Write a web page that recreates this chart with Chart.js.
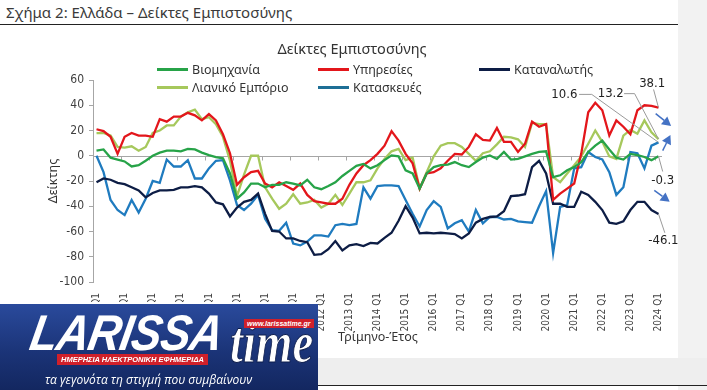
<!DOCTYPE html>
<html>
<head>
<meta charset="utf-8">
<script src="https://cdn.jsdelivr.net/npm/chart.js@4.4.1/dist/chart.umd.min.js"></script>
<style>
  html, body { margin: 0; padding: 0; }
  body { width: 707px; height: 390px; position: relative; overflow: hidden; background: #fff; font-family: "Noto Sans", "Open Sans", sans-serif; }
  #rightStrip { position: absolute; left: 678px; top: 0; width: 29px; height: 390px; background: #f2f2f2; }
  #bottomBand { position: absolute; left: 0; top: 358px; width: 707px; height: 27px; background: #eeeeee; }
  #bottomRule { position: absolute; left: 0; top: 385px; width: 707px; height: 1px; background: #222; }
  #header { position: absolute; left: 6px; top: 2px; font-size: 15px; color: #3a3a3a; white-space: nowrap; }
  #headerRule { position: absolute; left: 0; top: 24px; width: 678px; height: 1px; background: #222; }
  #chartWrap { position: absolute; left: 0; top: 0; width: 707px; height: 390px; }
  #chartTitle { position: absolute; left: 0; width: 704px; top: 38px; text-align: center; font-size: 14.5px; color: #333; }
  .leg { position: absolute; font-size: 12.5px; color: #333; white-space: nowrap; line-height: 16px; }
  .leg i { display: inline-block; width: 31px; height: 2.5px; vertical-align: middle; margin-right: 4px; position: relative; top: -1px; }
  #xTitle { position: absolute; left: 338px; top: 328px; font-size: 12.5px; color: #333; }
  #logo { position: absolute; left: 0; top: 302px; width: 318px; height: 88px; background: linear-gradient(180deg, #2a4a9c 0%, #1b3478 55%, #132760 100%); overflow: hidden; border-top: 2px solid #fff; box-sizing: border-box; }
  #logo .big { position: absolute; left: 36px; top: 0px; font: italic 900 50px "Liberation Sans", Arial, sans-serif; color: #fff; letter-spacing: -1px; transform-origin: 0 0; transform: skewX(-10deg) scaleX(0.9); white-space: nowrap; }
  #logo .time { position: absolute; left: 230px; top: 4px; font: italic 700 60px "Liberation Serif", serif; color: #fff; -webkit-text-stroke: 1px #0d1d4d; transform-origin: 0 0; transform: scaleX(0.78); white-space: nowrap; }
  #logo .www { position: absolute; left: 244px; top: 15px; background: #d0202a; color: #fff; font: italic 700 7px "Liberation Sans", sans-serif; padding: 1px 3px; }
  #logo .red { position: absolute; left: 57px; top: 50px; background: #d0202a; color: #fff; font: italic 700 7.5px "Liberation Sans", sans-serif; padding: 1px 4px; }
  #logo .tag { position: absolute; left: 45px; top: 67px; color: #fff; font: italic 400 12px "Open Sans", sans-serif; }
</style>
</head>
<body>
<div id="rightStrip"></div>
<div id="bottomBand"></div>
<div id="bottomRule"></div>
<div id="header">Σχήμα 2: Ελλάδα – Δείκτες Εμπιστοσύνης</div>
<div id="headerRule"></div>
<div id="chartWrap"><canvas id="confidenceChart"></canvas></div>
<div id="chartTitle">Δείκτες Εμπιστοσύνης</div>
<div class="leg" style="left:157px;top:62px"><i style="background:#27a348"></i>Βιομηχανία</div>
<div class="leg" style="left:318px;top:62px"><i style="background:#e3161b"></i>Υπηρεσίες</div>
<div class="leg" style="left:479px;top:62px"><i style="background:#0d1d45"></i>Καταναλωτής</div>
<div class="leg" style="left:157px;top:80px"><i style="background:#a6c85c"></i>Λιανικό Εμπόριο</div>
<div class="leg" style="left:318px;top:80px"><i style="background:#1e6f96"></i>Κατασκευές</div>
<div id="xTitle">Τρίμηνο-Έτος</div>
<div id="logo">
  <div class="big">LARISSA</div>
  <div class="time">time</div>
  <div class="www">www.larissatime.gr</div>
  <div class="red">ΗΜΕΡΗΣΙΑ ΗΛΕΚΤΡΟΝΙΚΗ ΕΦΗΜΕΡΙΔΑ</div>
  <div class="tag">τα γεγονότα τη στιγμή που συμβαίνουν</div>
</div>
<script>
const YEARS = [2004, 2005, 2006, 2007, 2008, 2009, 2010, 2011, 2012, 2013, 2014,
  2015, 2016, 2017, 2018, 2019, 2020, 2021, 2022, 2023, 2024];
const QUARTERS = ["Q1", "Q2", "Q3", "Q4"];

// 2004 Q1 ... 2024 Q1
const industry = [
  4, 5, -1.5, -3, -4.5, -8.5, -7.5, -4, 0, 2.5, 4, 4, 3.5, 5.5, 5, 2.5,
  0.5, -1, -2, -14, -34, -29, -22, -22, -25, -23, -23, -21, -22, -23.5, -19, -25,
  -26.5, -24, -21, -16, -12, -8, -6.5, -10, -7.5, -3.5, 0.3, -0.5, -11.5, -14, -26, -14,
  -9, -7.5, -7, -5, -7.5, -9, -5, -1.5, 0.3, -2.5, 3, -3, -2.5, -0.5, 1.5, 3,
  3.5, -17, -15.5, -11.5, -9, -5, 3, 8, 12, 5, -1.5, -3, 1.5, 0.5, -1, -3.5,
  -0.3
];
const services = [
  21, 19.5, 15, 1.5, 15, 18, 16, 16, 15, 29, 27, 31, 31, 34, 32, 28,
  33, 28, 17, 2, -23, -17, -13, -12, -22, -25, -21, -24, -27, -22, -31, -36,
  -37, -38, -38, -34, -23, -14, -7.5, -3.5, 1.5, 8, 19.5, 12, 1.5, -6, -26, -14,
  -13, -10, -4, 1.5, 1, 7, 17, 12.5, 12, 22, 11, 11, 3, 9.5, 27, 23,
  25, -35, -30, -26, -22, 1.5, 34.5, 42, 36, 16, 28, 23, 17, 36, 40, 39.5,
  38.1
];
const consumers = [
  -21, -18, -19, -21.5, -22.5, -25, -27.5, -33, -29.5, -27.5, -27.5, -27, -25, -25, -24, -25,
  -30, -37, -38.5, -48, -41, -36.5, -35, -30, -46, -59.5, -60, -65.5, -65.5, -67.5, -68.5, -78.5,
  -78, -74, -67.5, -75, -71, -70, -71.5, -69, -69.5, -65, -61, -51.5, -40, -49, -61.5, -61,
  -61.5, -61, -61.5, -62, -65.5, -61.5, -53, -50, -48.5, -48, -44, -32, -31.5, -30.5, -9, -4,
  -14, -38, -38, -40.5, -40.5, -28.5, -31, -36.5, -43, -53, -54, -52, -43, -36.5, -36.5, -43,
  -46.1
];
const retail = [
  18, 18, 16, 7, 6.5, 7.5, 4, 7, 18, 20, 24, 24, 31, 34.5, 36.5, 29,
  30.5, 25, 15, -4, -32, -15, 0, 0, -25, -34, -42, -38, -30.5, -38, -37, -35,
  -41, -38, -31, -39, -30, -21, -21, -19.5, -10, -2.5, 3.5, 5.5, -3.5, -1.5, -26, -13,
  -0.5, 8, 10, 10, 7, 1.5, -4, 2, 3.5, 9, 15, 14.5, 13, 7, 26, 25,
  25, -17, -21, -14, -7.5, -0.5, 9.5, 20, 11, -0.5, -2.5, 16, 20.5, 17.5, 28, 18.5,
  13.2
];
const construction = [
  0, -13, -35, -43, -47, -35, -45, -34, -20, -21.5, -3, -8.5, -8.5, -3.5, -18, -18,
  -10, -4, -3.5, -19.5, -39, -43, -38, -31, -50, -59, -59.5, -53, -69.5, -71, -68, -63,
  -63, -64, -55, -54, -55, -54, -25, -34, -24, -23.5, -23.5, -24, -35, -46, -56, -43,
  -36, -40.5, -57.5, -53.5, -51, -60, -43, -53.5, -48.5, -48.5, -50.5, -50, -52, -52.5, -53, -40,
  -28, -77, -40.5, -39, -10, -9, 3, -1, -3, -13, -31, -25, 3, 2, -10, 8,
  10.6
];

const Y_TICKS = { min: -100, max: 60, step: 20 };

const categories = [];
YEARS.forEach(y => QUARTERS.forEach(q => categories.push(y + " " + q)));
categories.length = industry.length;

const SERIES = [
  { label: "Βιομηχανία", data: industry, color: "#27a348" },
  { label: "Υπηρεσίες", data: services, color: "#e3161b" },
  { label: "Καταναλωτής", data: consumers, color: "#0d1d45" },
  { label: "Λιανικό Εμπόριο", data: retail, color: "#a6c85c" },
  { label: "Κατασκευές", data: construction, color: "#1f7bbf" }
];

// callout labels: text, label position (category index, value), which series end it points to, bend points
const CALLOUTS = [
  { text: "38.1", at: [79.1, 57.2], series: 1, path: [[79.3, 52.5]] },
  { text: "13.2", at: [73.2, 49.2], series: 3, path: [[75.1, 49.2], [76.6, 49.2]] },
  { text: "10.6", at: [66.6, 48.6], series: 4, path: [[68.7, 48.6], [70.5, 48.6]] },
  { text: "-0.3", at: [80.6, -19.8], series: 0, path: [[80.6, -12.5]] },
  { text: "-46.1", at: [80.7, -67], series: 2, path: [[80.9, -61]] }
];
const ARROWS = [
  { from: [79.6, 33.4], to: [81.8, 23.5] },
  { from: [80.6, 4], to: [81.7, 16.5] },
  { from: [79.4, -27.4], to: [81.6, -36.5] }
];

const AXIS_GRAY = "#a6a6a6";
const TEXT_COLOR = "#404040";
const NARROW = "'Liberation Sans Narrow', 'DejaVu Sans Condensed', 'Roboto Condensed', 'Roboto', sans-serif";

const zeroLinePlugin = {
  id: "zeroLine",
  beforeDatasetsDraw(chart) {
    const { ctx, chartArea, scales: { x, y } } = chart;
    const y0 = Math.round(y.getPixelForValue(0)) + 0.5;
    ctx.save();
    ctx.strokeStyle = AXIS_GRAY;
    ctx.lineWidth = 1;
    ctx.beginPath();
    ctx.moveTo(chartArea.left, y0);
    ctx.lineTo(chartArea.right, y0);
    // year tick marks at the boundary before each Q1
    for (let i = 0; i < categories.length; i += 4) {
      const px = Math.round(x.getPixelForValue(i - 0.5)) + 0.5;
      ctx.moveTo(px, y0);
      ctx.lineTo(px, y0 + 4);
    }
    ctx.stroke();
    ctx.restore();
  }
};

const calloutPlugin = {
  id: "callouts",
  afterDatasetsDraw(chart) {
    const { ctx, scales: { x, y } } = chart;
    const P = v => [x.getPixelForValue(v[0]), y.getPixelForValue(v[1])];
    ctx.save();
    CALLOUTS.forEach(c => {
      const meta = chart.getDatasetMeta(c.series);
      const end = meta.data[meta.data.length - 1];
      ctx.strokeStyle = "#9a9a9a";
      ctx.lineWidth = 1;
      ctx.beginPath();
      c.path.forEach((p, k) => {
        const [px, py] = P(p);
        if (k === 0) ctx.moveTo(px, py); else ctx.lineTo(px, py);
      });
      ctx.lineTo(end.x, end.y);
      ctx.stroke();
      const [tx, ty] = P(c.at);
      ctx.fillStyle = "#222";
      ctx.font = "13px " + NARROW;
      ctx.textAlign = "center";
      ctx.textBaseline = "middle";
      ctx.fillText(c.text, tx, ty);
    });
    ARROWS.forEach(a => {
      const [x1, y1] = P(a.from);
      const [x2, y2] = P(a.to);
      const ang = Math.atan2(y2 - y1, x2 - x1);
      const len = 9, half = 5;
      ctx.strokeStyle = "#4472c4";
      ctx.fillStyle = "#4472c4";
      ctx.lineWidth = 1.5;
      ctx.beginPath();
      ctx.moveTo(x1, y1);
      ctx.lineTo(x2 - Math.cos(ang) * len, y2 - Math.sin(ang) * len);
      ctx.stroke();
      ctx.beginPath();
      ctx.moveTo(x2, y2);
      ctx.lineTo(x2 - Math.cos(ang) * len - Math.sin(ang) * half, y2 - Math.sin(ang) * len + Math.cos(ang) * half);
      ctx.lineTo(x2 - Math.cos(ang) * len + Math.sin(ang) * half, y2 - Math.sin(ang) * len - Math.cos(ang) * half);
      ctx.closePath();
      ctx.fill();
    });
    ctx.restore();
  }
};

const ctx = document.getElementById("confidenceChart").getContext("2d");
const confidenceChart = new Chart(ctx, {
  type: "line",
  data: {
    labels: categories,
    datasets: SERIES.map(s => ({
      label: s.label,
      data: s.data,
      borderColor: s.color,
      backgroundColor: s.color,
      borderWidth: 2.3,
      pointRadius: 0,
      tension: 0,
      fill: false
    }))
  },
  options: {
    responsive: true,
    maintainAspectRatio: false,
    animation: false,
    layout: { padding: { left: 40, right: 45, top: 80, bottom: 58 } },
    plugins: {
      legend: { display: false },
      tooltip: { enabled: false }
    },
    scales: {
      x: {
        offset: true,
        border: { display: false },
        grid: { display: false },
        afterFit: s => { s.height = 50; },
        ticks: {
          autoSkip: false,
          maxRotation: 90,
          minRotation: 90,
          padding: 3,
          color: TEXT_COLOR,
          font: { family: NARROW, size: 10 },
          callback: function (v, i) { return i % 4 === 0 ? this.getLabelForValue(v) : ""; }
        }
      },
      y: {
        min: Y_TICKS.min,
        max: Y_TICKS.max,
        afterFit: s => { s.width = 53; },
        border: { display: true, color: AXIS_GRAY },
        grid: { drawOnChartArea: false, drawTicks: true, tickLength: 4, color: AXIS_GRAY },
        ticks: {
          stepSize: Y_TICKS.step,
          padding: 5,
          color: TEXT_COLOR,
          font: { family: NARROW, size: 12 }
        },
        title: {
          display: true,
          text: "Δείκτης",
          color: "#333",
          padding: { top: 6, bottom: 0 },
          font: { family: "'Noto Sans', 'Open Sans', sans-serif", size: 12.5 }
        }
      }
    }
  },
  plugins: [zeroLinePlugin, calloutPlugin]
});
</script>
</body>
</html>
